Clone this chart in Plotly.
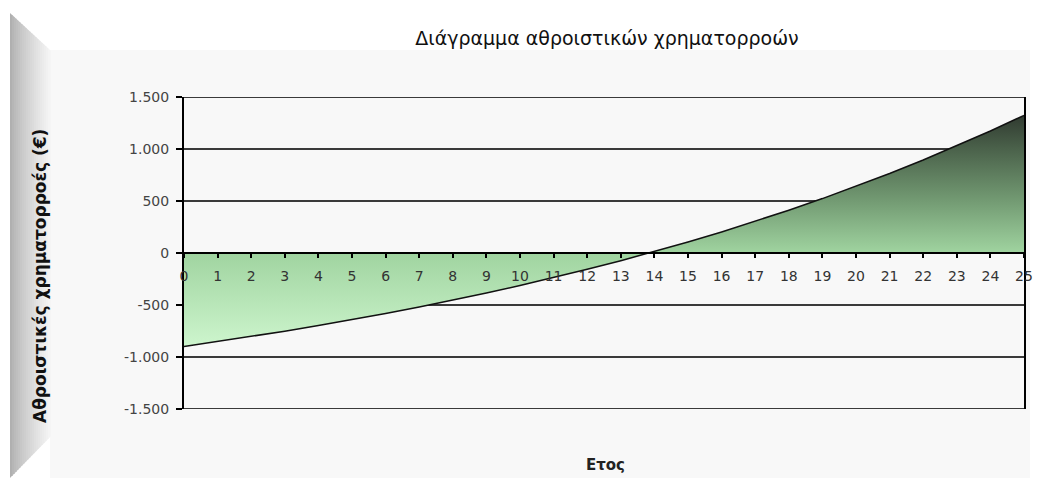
import plotly.graph_objects as go

# Cumulative cash flows per year (EUR)
years = list(range(26))
cumulative_cf = [-900, -853, -804, -753, -699, -642, -583, -520, -455, -386,
                 -313, -237, -157, -74, 14, 106, 203, 305, 412, 524,
                 642, 766, 896, 1032, 1175, 1325]

y_tick_vals = [-1500, -1000, -500, 0, 500, 1000, 1500]
y_tick_text = ["-1.500", "-1.000", "-500", "0", "500", "1.000", "1.500"]

chart_title = "Διάγραμμα αθροιστικών χρηματορροών"
y_title = "Αθροιστικές χρηματορροές (€)"
x_title = "Ετος"

W, H = 1044, 478
PL, PR, PT, PB = 184, 1024, 97, 409  # plot area in pixels


def px(x):
    return (x - PL) / (PR - PL)


def py(y):
    return (PB - y) / (PB - PT)


shapes = [
    # light grey chart panel
    dict(type="rect", xref="paper", yref="paper",
         x0=px(50), x1=px(1030), y0=py(478), y1=py(50),
         fillcolor="#f8f8f8", line=dict(width=0), layer="below"),
]

# gridlines at the top and bottom of the value range
for v in (y_tick_vals[0], y_tick_vals[-1]):
    shapes.append(dict(type="line", xref="paper", yref="y",
                       x0=0, x1=1, y0=v, y1=v,
                       line=dict(color="#3a3a3a", width=1.5), layer="below"))

# bevelled left edge of the panel, shaded from dark to light
n = 20
x_left, x_right = 10.0, 50.0
ytop = lambda x: 13 + (x - x_left) * 37 / 40
ybot = lambda x: 478 - (x - x_left) * 41 / 40
for i in range(n):
    a = x_left + (x_right - x_left) * i / n
    b = x_left + (x_right - x_left) * (i + 1) / n
    t = i / (n - 1)
    g = int(176 + (244 - 176) * t ** 0.8)
    path = (f"M {px(a)},{py(ytop(a))} L {px(b + 0.6)},{py(ytop(b + 0.6))} "
            f"L {px(b + 0.6)},{py(ybot(b + 0.6))} L {px(a)},{py(ybot(a))} Z")
    shapes.append(dict(type="path", xref="paper", yref="paper", path=path,
                       fillcolor=f"rgb({g},{g},{g})", line=dict(width=0),
                       layer="below"))

fig = go.Figure()
fig.add_trace(go.Scatter(
    x=years, y=cumulative_cf, mode="lines",
    line=dict(color="#111", width=1.5),
    fill="tozeroy",
    fillgradient=dict(
        type="vertical",
        start=min(cumulative_cf), stop=max(cumulative_cf),
        colorscale=[
            [0.0, "rgb(205,245,205)"],
            [0.404, "rgb(160,212,160)"],
            [0.629, "rgb(115,155,115)"],
            [0.854, "rgb(75,98,75)"],
            [1.0, "rgb(48,58,48)"],
        ],
    ),
    hoverinfo="skip", showlegend=False,
))

fig.update_layout(
    width=W, height=H,
    margin=dict(l=PL, r=W - PR, t=PT, b=H - PB),
    paper_bgcolor="white", plot_bgcolor="rgba(0,0,0,0)",
    shapes=shapes,
    title=dict(text=chart_title, x=607 / W, xanchor="center",
               y=1 - 38 / H, yanchor="middle",
               font=dict(family="DejaVu Sans", size=19, color="#111")),
    xaxis=dict(
        range=[0, 25], tick0=0, dtick=1,
        anchor="free", position=0.5,
        showline=True, linecolor="black", linewidth=2,
        ticks="outside", ticklen=4, tickwidth=1.5, tickcolor="black",
        ticklabelstandoff=6,
        showgrid=False, zeroline=False,
        tickfont=dict(family="DejaVu Sans", size=14, color="#333"),
    ),
    yaxis=dict(
        range=[-1502, 1502], tickvals=y_tick_vals, ticktext=y_tick_text,
        showline=True, linecolor="black", linewidth=2, mirror=True,
        ticks="outside", ticklen=6, tickwidth=1.5, tickcolor="black",
        ticklabelstandoff=4,
        showgrid=True, gridcolor="#3a3a3a", gridwidth=1.5, zeroline=False,
        tickfont=dict(family="DejaVu Sans", size=14, color="#444"),
    ),
    annotations=[
        dict(text=f"<b>{y_title}</b>", xref="paper", yref="paper",
             x=px(40), y=py(276), xanchor="center", yanchor="middle",
             textangle=-90, showarrow=False,
             font=dict(family="DejaVu Sans", size=17, color="#111")),
        dict(text=f"<b>{x_title}</b>", xref="paper", yref="paper",
             x=px(605), y=py(465), xanchor="center", yanchor="middle",
             showarrow=False,
             font=dict(family="DejaVu Sans", size=15, color="#222")),
    ],
)

fig.write_html("out.html")
